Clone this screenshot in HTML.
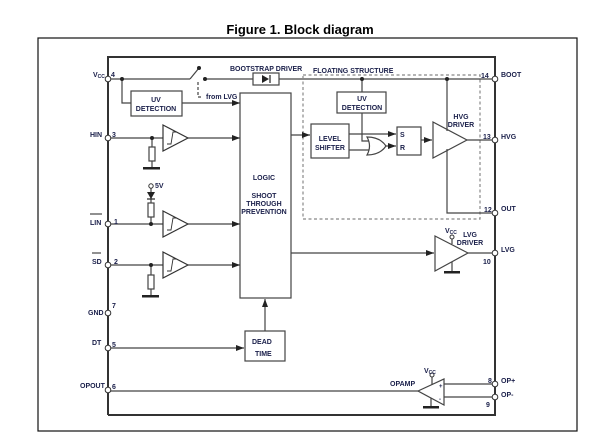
<!DOCTYPE html>
<html><head><meta charset="utf-8"><style>
html,body{margin:0;padding:0;background:#fff;}
svg{display:block;}
text{font-family:"Liberation Sans",sans-serif;font-weight:bold;fill:#1a1f4a;font-size:7px;}
</style></head><body>
<svg width="600" height="446" viewBox="0 0 600 446" xmlns="http://www.w3.org/2000/svg">
<defs>
<marker id="a" markerWidth="8" markerHeight="6" refX="8" refY="3" orient="auto" markerUnits="userSpaceOnUse"><path d="M0,0 L8,3 L0,6 z" fill="#222"/></marker>
</defs>
<text x="300" y="34" text-anchor="middle" style="font-size:13px;fill:#000">Figure 1. Block diagram</text>
<rect x="38" y="38" width="539" height="393" fill="none" stroke="#111" stroke-width="1.2"/>
<!-- chip outline -->
<path d="M108,415 V57 H495 V415 H108" fill="none" stroke="#333" stroke-width="2"/>
<g stroke="#444" stroke-width="1.2" fill="none">
<!-- VCC line -->
<line x1="108" y1="79" x2="190" y2="79"/>
<line x1="190" y1="79" x2="199" y2="68"/>
<line x1="205" y1="79" x2="495" y2="79"/>
<rect x="253" y="73" width="26" height="12" fill="#fff"/>
<path d="M122,79 V103 H131"/>
<rect x="131" y="91" width="51" height="25" fill="#fff"/>
<line x1="182" y1="103" x2="240" y2="103" marker-end="url(#a)"/>
<path d="M198,82 V97 H203" stroke-dasharray="3,2"/>
<!-- HIN -->
<line x1="108" y1="138" x2="163" y2="138"/>
<line x1="188" y1="138" x2="240" y2="138" marker-end="url(#a)"/>
<path d="M152,138 V147"/><rect x="149" y="147" width="6" height="14"/><path d="M152,161 V168"/>
<!-- LIN -->
<line x1="108" y1="224" x2="163" y2="224"/>
<line x1="188" y1="224" x2="240" y2="224" marker-end="url(#a)"/>
<path d="M151,188 V203"/><rect x="148" y="203" width="6" height="14"/><path d="M151,217 V224"/>
<!-- SD -->
<line x1="108" y1="265" x2="163" y2="265"/>
<line x1="188" y1="265" x2="240" y2="265" marker-end="url(#a)"/>
<path d="M151,265 V275"/><rect x="148" y="275" width="6" height="14"/><path d="M151,289 V296"/>
<!-- logic -->
<rect x="240" y="93" width="51" height="205" fill="#fff"/>
<rect x="245" y="331" width="40" height="30" fill="#fff"/>
<line x1="108" y1="348" x2="244" y2="348" marker-end="url(#a)"/>
<line x1="265" y1="331" x2="265" y2="299" marker-end="url(#a)"/>
<!-- floating -->
<rect x="303" y="75" width="177" height="144" stroke="#888" stroke-dasharray="3,2.5"/>
<line x1="291" y1="135" x2="310" y2="135" marker-end="url(#a)"/>
<rect x="311" y="124" width="38" height="34" fill="#fff"/>
<rect x="337" y="92" width="49" height="21" fill="#fff"/>
<path d="M362,79 V92"/>
<path d="M362,113 V141 H370"/>
<line x1="349" y1="134" x2="396" y2="134" marker-end="url(#a)"/>
<path d="M349,150 H370"/>
<path d="M367,137 Q372,146 367,155 Q380,155 386,146 Q380,137 367,137 z" fill="#fff"/>
<line x1="386" y1="146" x2="396" y2="146" marker-end="url(#a)"/>
<rect x="397" y="127" width="24" height="28" fill="#fff"/>
<line x1="421" y1="140" x2="432" y2="140" marker-end="url(#a)"/>
<path d="M433,122 L467,140 L433,158 z" fill="#fff"/>
<line x1="467" y1="140" x2="495" y2="140"/>
<path d="M447,79 V131"/><path d="M447,149 V213 H495"/>
<!-- LVG -->
<line x1="291" y1="253" x2="434" y2="253" marker-end="url(#a)"/>
<path d="M435,236 L468,253 L435,271 z" fill="#fff"/>
<line x1="468" y1="253" x2="495" y2="253"/>
<path d="M452,238 V244"/><path d="M452,262 V272"/>
<!-- opamp -->
<line x1="108" y1="391" x2="418" y2="391"/>
<path d="M418,391 L444,379 L444,405 z" fill="#fff"/>
<path d="M444,384 H495 M444,397 H495"/>
<path d="M432,377 V385 M431,398 V407"/>
</g>
<!-- ground bars -->
<g fill="#222">
<rect x="143" y="167" width="17" height="2.5"/>
<rect x="142" y="295" width="17" height="2.5"/>
<rect x="444" y="271" width="16" height="2.5"/>
<rect x="423" y="406" width="16" height="2.5"/>
</g>
<!-- comparators -->
<g stroke="#333" stroke-width="1.2" fill="#fff">
<path d="M163,125 L188,138 L163,151 z"/>
<path d="M163,211 L188,224 L163,237 z"/>
<path d="M163,252 L188,265 L163,278 z"/>
</g>
<g stroke="#333" stroke-width="0.9" fill="none">
<path d="M167,144 H171 L173,132 H177"/>
<path d="M167,230 H171 L173,218 H177"/>
<path d="M167,271 H171 L173,259 H177"/>
</g>
<!-- diode -->
<path d="M262,75 L262,83 L269,79 z" fill="#222"/><line x1="270" y1="75" x2="270" y2="83" stroke="#222" stroke-width="1.2"/>
<path d="M147,192 L155,192 L151,199 z" fill="#222"/><line x1="147" y1="199" x2="155" y2="199" stroke="#222" stroke-width="1.2"/>
<!-- dots -->
<g fill="#222">
<circle cx="122" cy="79" r="2"/><circle cx="199" cy="68" r="2"/><circle cx="205" cy="79" r="2"/>
<circle cx="152" cy="138" r="2"/><circle cx="151" cy="224" r="2"/><circle cx="151" cy="265" r="2"/>
<circle cx="362" cy="79" r="2"/><circle cx="447" cy="79" r="2"/>
</g>
<!-- pins -->
<g fill="#fff" stroke="#333" stroke-width="1">
<circle cx="108" cy="79" r="2.8"/><circle cx="108" cy="138" r="2.8"/><circle cx="108" cy="224" r="2.8"/><circle cx="108" cy="265" r="2.8"/>
<circle cx="108" cy="313" r="2.8"/><circle cx="108" cy="348" r="2.8"/><circle cx="108" cy="390" r="2.8"/>
<circle cx="495" cy="79" r="2.8"/><circle cx="495" cy="140" r="2.8"/><circle cx="495" cy="213" r="2.8"/><circle cx="495" cy="253" r="2.8"/>
<circle cx="495" cy="384" r="2.8"/><circle cx="495" cy="397" r="2.8"/>
<circle cx="151" cy="186" r="2.2"/><circle cx="452" cy="237" r="2"/><circle cx="432" cy="375" r="2"/>
</g>
<!-- labels -->
<text x="93" y="77">V<tspan style="font-size:5px" dy="1">CC</tspan></text>
<text x="111" y="77">4</text>
<text x="90" y="137">HIN</text><text x="112" y="137">3</text>
<text x="90" y="225">LIN</text><line x1="90" y1="214" x2="102" y2="214" stroke="#222"/><text x="114" y="224">1</text>
<text x="92" y="264">SD</text><line x1="92" y1="253" x2="101" y2="253" stroke="#222"/><text x="114" y="264">2</text>
<text x="88" y="315">GND</text><text x="112" y="308">7</text>
<text x="92" y="345">DT</text><text x="112" y="347">5</text>
<text x="80" y="388">OPOUT</text><text x="112" y="389">6</text>
<text x="155" y="188">5V</text>
<text x="156" y="102" text-anchor="middle">UV</text><text x="156" y="111" text-anchor="middle">DETECTION</text>
<text x="230" y="71">BOOTSTRAP DRIVER</text>
<text x="206" y="99">from LVG</text>
<text x="264" y="180" text-anchor="middle">LOGIC</text>
<text x="264" y="198" text-anchor="middle">SHOOT</text>
<text x="264" y="206" text-anchor="middle">THROUGH</text>
<text x="264" y="214" text-anchor="middle">PREVENTION</text>
<text x="252" y="344">DEAD</text><text x="255" y="356">TIME</text>
<text x="313" y="73">FLOATING STRUCTURE</text>
<text x="362" y="101" text-anchor="middle">UV</text><text x="362" y="110" text-anchor="middle">DETECTION</text>
<text x="330" y="141" text-anchor="middle">LEVEL</text><text x="330" y="150" text-anchor="middle">SHIFTER</text>
<text x="400" y="137">S</text><text x="400" y="150">R</text>
<text x="461" y="119" text-anchor="middle">HVG</text><text x="461" y="127" text-anchor="middle">DRIVER</text>
<text x="470" y="237" text-anchor="middle">LVG</text><text x="470" y="245" text-anchor="middle">DRIVER</text>
<text x="445" y="233">V<tspan style="font-size:5px" dy="1">CC</tspan></text>
<text x="424" y="373">V<tspan style="font-size:5px" dy="1">CC</tspan></text>
<text x="481" y="78">14</text><text x="501" y="77">BOOT</text>
<text x="483" y="139">13</text><text x="501" y="139">HVG</text>
<text x="484" y="212">12</text><text x="501" y="211">OUT</text>
<text x="501" y="252">LVG</text><text x="483" y="264">10</text>
<text x="390" y="386">OPAMP</text>
<text x="439" y="388" style="font-size:6px">+</text><text x="439" y="401" style="font-size:6px">-</text>
<text x="488" y="383">8</text><text x="501" y="383">OP+</text>
<text x="501" y="397">OP-</text><text x="486" y="407">9</text>
</svg>
</body></html>
